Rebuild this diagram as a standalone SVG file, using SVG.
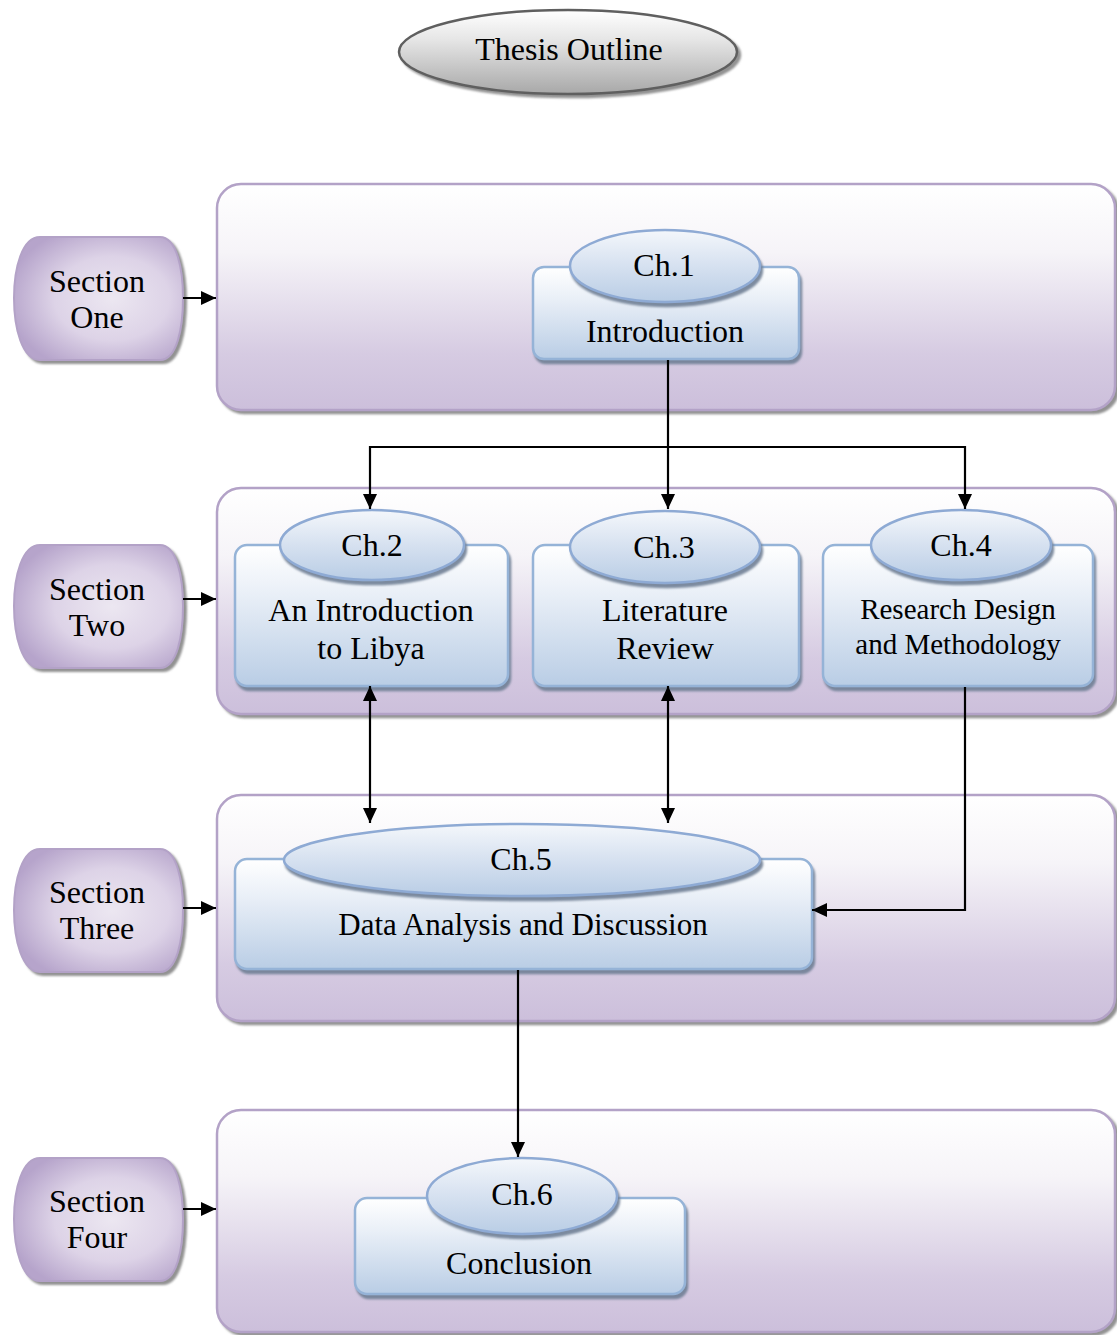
<svg xmlns="http://www.w3.org/2000/svg" width="1117" height="1335" viewBox="0 0 1117 1335">
  <defs>
    <linearGradient id="gPanel" x1="0" y1="0" x2="0" y2="1">
      <stop offset="0" stop-color="#ffffff"/>
      <stop offset="0.3" stop-color="#f6f4f8"/>
      <stop offset="0.75" stop-color="#d6cbe2"/>
      <stop offset="1" stop-color="#ccbfdb"/>
    </linearGradient>
    <radialGradient id="gTab" cx="0.58" cy="0.5" r="0.62">
      <stop offset="0" stop-color="#ece7f1"/>
      <stop offset="0.55" stop-color="#ddd3e7"/>
      <stop offset="1" stop-color="#b6a4cb"/>
    </radialGradient>
    <linearGradient id="gBox" x1="0" y1="0" x2="0" y2="1">
      <stop offset="0" stop-color="#ffffff"/>
      <stop offset="0.35" stop-color="#e9eff7"/>
      <stop offset="1" stop-color="#b9cde5"/>
    </linearGradient>
    <linearGradient id="gOval" x1="0" y1="0" x2="0" y2="1">
      <stop offset="0" stop-color="#f4f7fb"/>
      <stop offset="0.5" stop-color="#d6e1f0"/>
      <stop offset="1" stop-color="#b9cde5"/>
    </linearGradient>
    <linearGradient id="gTitle" x1="0" y1="0" x2="0" y2="1">
      <stop offset="0" stop-color="#ffffff"/>
      <stop offset="0.35" stop-color="#e6e6e6"/>
      <stop offset="1" stop-color="#a8a8a8"/>
    </linearGradient>
    <filter id="shadow" x="-5%" y="-5%" width="112%" height="115%">
      <feDropShadow dx="3" dy="3" stdDeviation="0.8" flood-color="#7f7f7f" flood-opacity="0.85"/>
    </filter>
    <filter id="shadowBlue" x="-5%" y="-5%" width="112%" height="115%">
      <feDropShadow dx="2" dy="4" stdDeviation="0.8" flood-color="#6f7f95" flood-opacity="0.9"/>
    </filter>
    <marker id="arrow" viewBox="0 0 15 14" refX="15" refY="7" markerWidth="15" markerHeight="14" markerUnits="userSpaceOnUse" orient="auto-start-reverse">
      <path d="M0,0 L15,7 L0,14 Z" fill="#000"/>
    </marker>
    <style>
      text { font-family: "Liberation Serif", "Times New Roman", serif; font-size: 32px; fill: #000; text-anchor: middle; }
      .panel { fill: url(#gPanel); stroke: #b3a2c7; stroke-width: 2.5; filter: url(#shadow); }
      .tab { fill: url(#gTab); stroke: #b3a2c7; stroke-width: 2; filter: url(#shadow); }
      .box { fill: url(#gBox); stroke: #95b3d7; stroke-width: 2.5; filter: url(#shadowBlue); }
      .oval { fill: url(#gOval); stroke: #8eaad4; stroke-width: 2.5; filter: url(#shadowBlue); }
      .wire { fill: none; stroke: #000; stroke-width: 2.2; }
      .small { font-size: 29px; }
      .mid { font-size: 31px; }
    </style>
  </defs>

  <!-- title -->
  <g id="title">
    <ellipse cx="568" cy="52" rx="169" ry="42" fill="url(#gTitle)" stroke="#5f5f5f" stroke-width="2.5" filter="url(#shadow)"/>
    <text x="569" y="60">Thesis Outline</text>
  </g>

  <!-- section panels -->
  <g id="panel-1"><rect class="panel" x="217" y="184" width="898" height="226" rx="24"/></g>
  <g id="panel-2"><rect class="panel" x="217" y="488" width="898" height="226" rx="24"/></g>
  <g id="panel-3"><rect class="panel" x="217" y="795" width="898" height="226" rx="24"/></g>
  <g id="panel-4"><rect class="panel" x="217" y="1110" width="898" height="222" rx="24"/></g>

  <!-- section tabs -->
  <g id="section-one">
    <path class="tab" d="M40,237 H160 C177,237 183,270 183,298 C183,328 177,360 160,360 H40 C22,360 14,328 14,298 C14,268 22,237 40,237 Z"/>
    <text x="97" y="292">Section</text>
    <text x="97" y="328">One</text>
  </g>
  <g id="section-two">
    <path class="tab" d="M40,545 H160 C177,545 183,578 183,606 C183,636 177,668 160,668 H40 C22,668 14,636 14,606 C14,576 22,545 40,545 Z"/>
    <text x="97" y="600">Section</text>
    <text x="97" y="636">Two</text>
  </g>
  <g id="section-three">
    <path class="tab" d="M40,849 H160 C177,849 183,882 183,910 C183,940 177,972 160,972 H40 C22,972 14,940 14,910 C14,880 22,849 40,849 Z"/>
    <text x="97" y="903">Section</text>
    <text x="97" y="939">Three</text>
  </g>
  <g id="section-four">
    <path class="tab" d="M40,1158 H160 C177,1158 183,1191 183,1219 C183,1249 177,1281 160,1281 H40 C22,1281 14,1249 14,1219 C14,1189 22,1158 40,1158 Z"/>
    <text x="97" y="1212">Section</text>
    <text x="97" y="1248">Four</text>
  </g>

  <!-- chapters -->
  <g id="ch1">
    <rect class="box" x="533" y="267" width="266" height="92" rx="11"/>
    <ellipse class="oval" cx="665" cy="266" rx="95" ry="36"/>
    <text x="664" y="276">Ch.1</text>
    <text x="665" y="342">Introduction</text>
  </g>
  <g id="ch2">
    <rect class="box" x="235" y="545" width="273" height="141" rx="12"/>
    <ellipse class="oval" cx="372" cy="545" rx="92" ry="35"/>
    <text x="372" y="556">Ch.2</text>
    <text x="371" y="621">An Introduction</text>
    <text x="371" y="659">to Libya</text>
  </g>
  <g id="ch3">
    <rect class="box" x="533" y="545" width="266" height="141" rx="12"/>
    <ellipse class="oval" cx="665" cy="547" rx="95" ry="36"/>
    <text x="664" y="558">Ch.3</text>
    <text x="665" y="621">Literature</text>
    <text x="665" y="659">Review</text>
  </g>
  <g id="ch4">
    <rect class="box" x="823" y="545" width="270" height="141" rx="12"/>
    <ellipse class="oval" cx="961" cy="545" rx="90" ry="35"/>
    <text x="961" y="556">Ch.4</text>
    <text class="small" x="958" y="619">Research Design</text>
    <text class="small" x="958" y="654">and Methodology</text>
  </g>
  <g id="ch5">
    <rect class="box" x="235" y="859" width="577" height="110" rx="12"/>
    <ellipse class="oval" cx="522" cy="860" rx="238" ry="36"/>
    <text x="521" y="870">Ch.5</text>
    <text class="mid" x="523" y="935">Data Analysis and Discussion</text>
  </g>
  <g id="ch6">
    <rect class="box" x="355" y="1198" width="330" height="96" rx="12"/>
    <ellipse class="oval" cx="522" cy="1196" rx="95" ry="38"/>
    <text x="522" y="1205">Ch.6</text>
    <text x="519" y="1274">Conclusion</text>
  </g>

  <!-- connectors -->
  <g id="connectors">
    <line class="wire" x1="183" y1="298" x2="216" y2="298" marker-end="url(#arrow)"/>
    <line class="wire" x1="183" y1="599" x2="216" y2="599" marker-end="url(#arrow)"/>
    <line class="wire" x1="183" y1="908" x2="216" y2="908" marker-end="url(#arrow)"/>
    <line class="wire" x1="183" y1="1209" x2="216" y2="1209" marker-end="url(#arrow)"/>

    <line class="wire" x1="668" y1="360" x2="668" y2="509" marker-end="url(#arrow)"/>
    <polyline class="wire" points="668,447 370,447 370,509" marker-end="url(#arrow)"/>
    <polyline class="wire" points="668,447 965,447 965,509" marker-end="url(#arrow)"/>

    <line class="wire" x1="370" y1="686" x2="370" y2="823" marker-start="url(#arrow)" marker-end="url(#arrow)"/>
    <line class="wire" x1="668" y1="686" x2="668" y2="823" marker-start="url(#arrow)" marker-end="url(#arrow)"/>

    <polyline class="wire" points="965,687 965,910 812,910" marker-end="url(#arrow)"/>
    <line class="wire" x1="518" y1="970" x2="518" y2="1157" marker-end="url(#arrow)"/>
  </g>
</svg>
